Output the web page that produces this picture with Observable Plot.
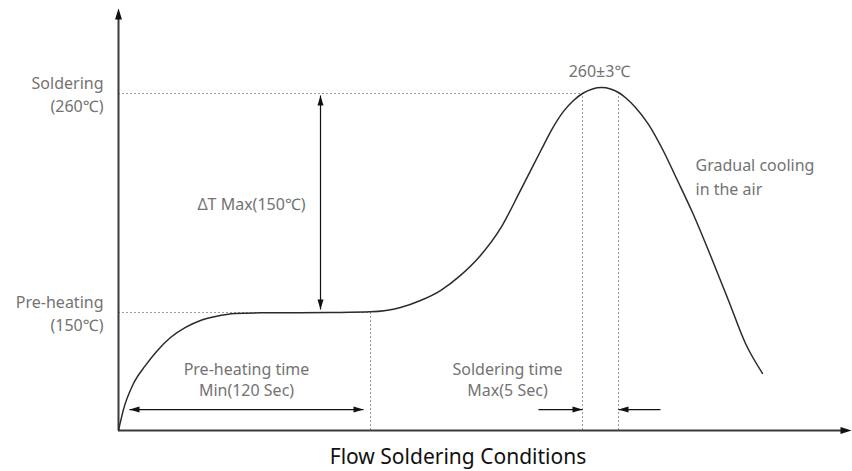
<!DOCTYPE html>
<html>
<head>
<meta charset="utf-8">
<script src="https://cdn.jsdelivr.net/npm/d3@7"></script>
<script src="https://cdn.jsdelivr.net/npm/@observablehq/plot@0.6"></script>
<style>
  body { margin: 0; background: #fff; font-family: "Noto Sans", "Noto Sans CJK KR", sans-serif; }
  #chart { width: 852px; height: 440px; }
  #title { width: 852px; box-sizing: border-box; padding-left: 64px; text-align: center;
           height: 32px; line-height: 32px; font-size: 21px; color: #111; font-weight: 400; }
</style>
</head>
<body>
<div id="chart"></div>
<div id="title">Flow Soldering Conditions</div>
<script>
// ---- Data (time in arbitrary units, temperature in ℃) ----
const timeDomain = [0, 733];
const tempDomain = [90.7, 302.7];

const curveTime = [0, 5, 15, 27, 39, 52, 67, 82, 97, 117, 142, 182, 222, 252, 282, 302, 322, 342, 362, 382, 402, 422, 434, 445, 455, 464, 474, 483, 492, 500, 508, 517, 530, 544, 559, 574, 592, 610, 627, 644];
const curveTemp = [90.7, 101.3, 114.3, 123.4, 130.9, 137.4, 142.5, 146.0, 148.0, 149.5, 149.8, 149.9, 150.0, 150.3, 152.5, 156.0, 161.0, 168.6, 178.6, 192.2, 211.3, 231.0, 242.5, 251.0, 256.5, 260.0, 262.3, 263.0, 262.3, 260.5, 257.5, 253.0, 244.5, 232.0, 216.3, 200.2, 178.6, 156.0, 134.4, 119.4];

const levelLabels = ["Soldering\n(260℃)", "Pre-heating\n(150℃)"];
const levelTemps = [260, 150];
const levelEnds = [464, 252];
const windowTimes = [464, 500, 252];
const windowTops = [260, 260, 150];

const arrowX1 = [11, 202, 420, 542];
const arrowY1 = [101.2, 151.5, 101.2, 101.2];
const arrowX2 = [245, 202, 464, 500];
const arrowY2 = [101.2, 259, 101.2, 101.2];
const arrowDouble = [true, true, false, false];

const noteTexts = ["ΔT Max(150℃)", "Pre-heating time\nMin(120 Sec)", "Soldering time\nMax(5 Sec)", "260±3℃", "Gradual cooling\nin the air"];
const noteTimes = [133, 128, 389, 481, 577];
const noteTemps = [205, 116.6, 116.6, 271.5, 218.8];
const noteAnchors = ["middle", "middle", "middle", "middle", "start"];

// ---- Derived tables ----
const curve = curveTime.map((t, i) => ({t, T: curveTemp[i]}));
const levels = levelTemps.map((T, i) => ({T, label: levelLabels[i], end: levelEnds[i]}));
const windows = windowTimes.map((t, i) => ({t, top: windowTops[i]}));
const arrows = arrowX1.map((x1, i) => ({x1, y1: arrowY1[i], x2: arrowX2[i], y2: arrowY2[i], dbl: arrowDouble[i]}));
const heads = [];
arrows.forEach(a => {
  const ang = Math.atan2(a.x2 - a.x1, a.y2 - a.y1) * 180 / Math.PI;
  heads.push({t: a.x2, T: a.y2, a: ang});
  if (a.dbl) heads.push({t: a.x1, T: a.y1, a: ang + 180});
});
const axisHeads = [{t: 0, T: tempDomain[1], a: 0}, {t: timeDomain[1], T: tempDomain[0], a: 90}];
const notes = noteTexts.map((text, i) => ({text, t: noteTimes[i], T: noteTemps[i], anchor: noteAnchors[i]}));

const headSym = {draw(ctx) { ctx.moveTo(0, 0); ctx.lineTo(3, 10); ctx.lineTo(-3, 10); ctx.closePath(); }};
const axisSym = {draw(ctx) { ctx.moveTo(0, 0); ctx.lineTo(3.5, 11); ctx.lineTo(-3.5, 11); ctx.closePath(); }};

const font = "'Noto Sans', 'Noto Sans CJK KR', sans-serif";
const grey = "#737373";
const dash = "#9a9a9a";

const chart = Plot.plot({
  width: 852, height: 440,
  marginLeft: 118, marginRight: 1, marginTop: 8, marginBottom: 10,
  x: {domain: timeDomain, axis: null},
  y: {domain: tempDomain, axis: null},
  style: {fontFamily: font, background: "#fff"},
  marks: [
    // dashed reference lines
    Plot.ruleY(levels, {y: "T", x1: 0, x2: "end", stroke: dash, strokeWidth: 1, strokeDasharray: "2,2"}),
    Plot.ruleX(windows, {x: "t", y1: tempDomain[0], y2: "top", stroke: dash, strokeWidth: 1, strokeDasharray: "2,2"}),
    // axes
    Plot.ruleX([0], {y1: tempDomain[0], y2: tempDomain[1] - 4, stroke: "#3a3a3a", strokeWidth: 2}),
    Plot.ruleY([tempDomain[0]], {x1: 0, x2: timeDomain[1] - 5, stroke: "#3a3a3a", strokeWidth: 2}),
    Plot.dot(axisHeads, {x: "t", y: "T", rotate: "a", symbol: axisSym, fill: "#111", stroke: "none"}),
    // profile curve
    Plot.line(curve, {x: "t", y: "T", curve: "monotone-x", stroke: "#2b2b2b", strokeWidth: 1.5}),
    // dimension arrows
    Plot.link(arrows, {x1: "x1", y1: "y1", x2: "x2", y2: "y2", stroke: "#111", strokeWidth: 1.2}),
    Plot.dot(heads, {x: "t", y: "T", rotate: "a", symbol: headSym, fill: "#111", stroke: "none"}),
    // level labels
    Plot.text(levels, {x: 0, y: "T", text: "label", dx: -15, textAnchor: "end", lineAnchor: "middle",
      fontSize: 16, lineHeight: 1.44, fill: grey}),
    // notes
    Plot.text(notes.filter(d => d.anchor === "middle"), {x: "t", y: "T", text: "text", textAnchor: "middle", lineAnchor: "middle",
      fontSize: 16, lineHeight: 1.32, fill: grey}),
    Plot.text(notes.filter(d => d.anchor === "start"), {x: "t", y: "T", text: "text", textAnchor: "start", lineAnchor: "middle",
      fontSize: 16, lineHeight: 1.5, fill: grey})
  ]
});
document.getElementById("chart").appendChild(chart);
</script>
</body>
</html>
